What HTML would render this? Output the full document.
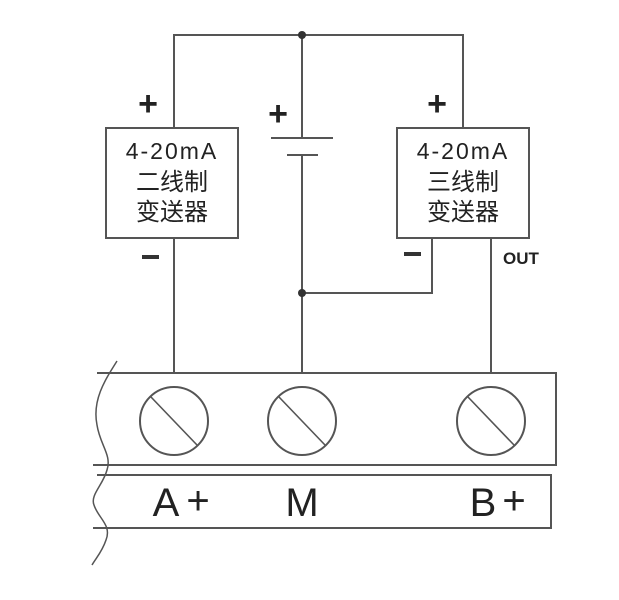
<!DOCTYPE html>
<html><head><meta charset="utf-8"><style>
html,body{margin:0;padding:0;background:#fff;}
svg{display:block;}
text{font-family:"Liberation Sans","Noto Sans CJK SC",sans-serif;fill:#222;}
</style></head><body>
<svg width="619" height="600" viewBox="0 0 619 600" xmlns="http://www.w3.org/2000/svg">
<g stroke="#555" stroke-width="2" fill="none">
<polyline points="174,128 174,35 463,35 463,128"/>
<line x1="302" y1="35" x2="302" y2="138"/>
<line x1="302" y1="155" x2="302" y2="373"/>
<line x1="271" y1="138" x2="333" y2="138"/>
<line x1="287" y1="155" x2="318" y2="155"/>
<rect x="106" y="128" width="132" height="110"/>
<rect x="397" y="128" width="132" height="110"/>
<line x1="174" y1="238" x2="174" y2="373"/>
<polyline points="432,238 432,293 302,293"/>
<line x1="491" y1="238" x2="491" y2="373"/>
<polyline points="97,373 556,373 556,465 93,465"/>
<polyline points="97,475 551,475 551,528 93,528"/>
<circle cx="174" cy="421" r="34"/>
<circle cx="302" cy="421" r="34"/>
<circle cx="491" cy="421" r="34"/>
<line x1="151" y1="397" x2="197" y2="445" stroke-width="1.6"/>
<line x1="279" y1="397" x2="325" y2="445" stroke-width="1.6"/>
<line x1="468" y1="397" x2="514" y2="445" stroke-width="1.6"/>
<path d="M117,361 C105,380 92,400 97,425 C100,445 112,455 107,470 C103,485 90,495 94,505 C98,518 112,525 106,540 C102,552 96,558 92,565" stroke-width="1.5"/>
</g>
<circle cx="302" cy="35" r="4" fill="#333"/>
<circle cx="302" cy="293" r="4" fill="#333"/>
<g font-size="23" text-anchor="middle">
<text x="172" y="159" letter-spacing="2">4-20mA</text>
<text x="172" y="190" font-size="24">二线制</text>
<text x="172" y="220" font-size="24">变送器</text>
<text x="463" y="159" letter-spacing="2">4-20mA</text>
<text x="463" y="190" font-size="24">三线制</text>
<text x="463" y="220" font-size="24">变送器</text>
</g>
<g font-size="34" text-anchor="middle" font-weight="bold">
<text x="148" y="115">+</text>
<text x="278" y="125">+</text>
<text x="437" y="115">+</text>
</g>
<rect x="142" y="255" width="17" height="4" fill="#333"/>
<rect x="404" y="252" width="17" height="4" fill="#333"/>
<text x="521" y="264" font-size="17" font-weight="bold" text-anchor="middle">OUT</text>
<g font-size="40" text-anchor="middle">
<text x="166" y="516">A</text><text x="198" y="514">+</text>
<text x="302" y="516">M</text>
<text x="483" y="516">B</text><text x="514" y="514">+</text>
</g>
</svg>
</body></html>
